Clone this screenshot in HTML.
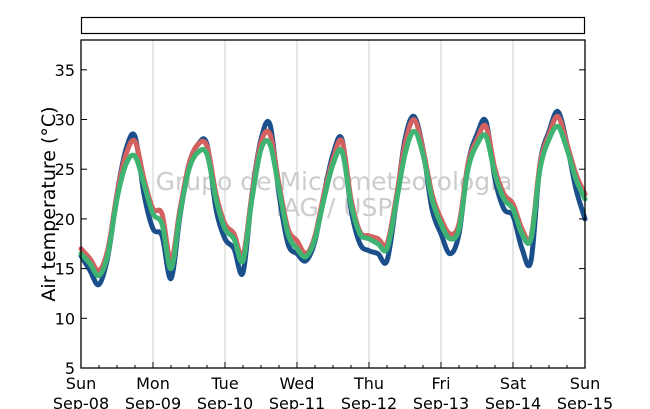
<!DOCTYPE html>
<html><head><meta charset="utf-8"><style>
body{margin:0;background:#fff}
svg{display:block;font-family:"DejaVu Sans","Liberation Sans",sans-serif}
</style></head><body>
<svg id="chart" width="650" height="409" viewBox="0 0 650 409">
<rect x="81.5" y="17.5" width="503" height="16" fill="#fff" stroke="#000" stroke-width="1.2"/>
<g id="grid"></g>
<g id="watermark" fill="#cccccc" font-size="25" text-anchor="middle">
<text x="334" y="190">Grupo de Micrometeorologia</text>
<text x="334" y="216">IAG / USP</text>
</g>
<g id="series"></g>
<rect x="81" y="40" width="504" height="328" fill="none" stroke="#000" stroke-width="1.3"/>
<g id="axes"></g>
<text transform="translate(55,204) rotate(-90)" text-anchor="middle" font-size="19">Air temperature (°C)</text>
</svg>
<script>
const dayLabels=["Sun","Mon","Tue","Wed","Thu","Fri","Sat","Sun"];
const dateLabels=["Sep-08","Sep-09","Sep-10","Sep-11","Sep-12","Sep-13","Sep-14","Sep-15"];
const yTicks=[5,10,15,20,25,30,35];
const stepHours=3;
const greenSeries=[16.5,15.5,14.3,16.5,22,25.5,26.3,23.5,20.5,19.5,15,20.5,25,26.7,26.5,22,19,18,15.8,22,27,27.5,23,18.5,17,16.2,18,22,25.5,26.8,21.5,18.5,18,17.5,17,21.5,26.5,28.8,26.5,22,19.5,18,19,25,27.5,28.3,24.5,22,21,18.5,18,25,28,29.3,27,24,22];
const blueSeries=[16.3,14.8,13.4,16.3,22.5,27,28.3,22.5,19,18.3,14,20.3,25.5,27.5,27.5,21,18,17,14.6,22.5,28,29.5,22.5,17.5,16.5,15.8,17.8,22.5,26.5,28,21,17.5,16.8,16.5,15.8,21.5,28,30.3,27,21,18.5,16.5,18.5,25.5,28.5,29.8,24,21,20.3,17,15.8,25.5,28.8,30.8,27.5,23,20];
const redSeries=[17,16,14.8,17,22.5,26.5,27.8,24,21,20.5,15.8,21,25.5,27.5,27.3,22.5,19.5,18.5,16.3,22.5,27.7,28.5,23.5,19,17.8,16.5,18.3,22.5,26,27.8,22,18.7,18.3,18,17.5,22,27.5,30,27,22.5,20,18.5,19.5,25.5,28,29.3,25,22.5,21.5,19,18.2,25.5,28.5,30.3,27.5,24.5,22.5];

const NS="http://www.w3.org/2000/svg";
const X0=81,X1=585,Y0=40,Y1=368,HMAX=168,TMIN=5,TMAX=38;
const xs=h=>X0+(h/HMAX)*(X1-X0);
const ys=t=>Y1-(t-TMIN)/(TMAX-TMIN)*(Y1-Y0);
function mk(tag,parent,attrs){const e=document.createElementNS(NS,tag);for(const k in attrs)e.setAttribute(k,attrs[k]);parent.appendChild(e);return e;}
const grid=document.getElementById('grid'),axes=document.getElementById('axes'),ser=document.getElementById('series');
for(let d=1;d<7;d++){const g=mk('line',grid,{x1:xs(d*24),x2:xs(d*24),y1:Y0,y2:Y1,stroke:'#cccccc','stroke-width':1});

}
for(let h=6;h<HMAX;h+=6){const t=mk('line',axes,{x1:xs(h),x2:xs(h),y1:Y1,y2:Y1-(h%24?3:6),stroke:'#000'});

}
dayLabels.forEach((lab,i)=>{
const a=mk('text',axes,{x:xs(i*24),y:389,'text-anchor':'middle','font-size':16});a.textContent=lab;


const b=mk('text',axes,{x:xs(i*24),y:409,'text-anchor':'middle','font-size':16});b.textContent=dateLabels[i];

});
yTicks.forEach(v=>{
const l=mk('line',axes,{x1:X0,x2:X0+6,y1:ys(v),y2:ys(v),stroke:'#000'});


const r=mk('line',axes,{x1:X1-6,x2:X1,y1:ys(v),y2:ys(v),stroke:'#000'});


const t=mk('text',axes,{x:75,y:ys(v)+6,'text-anchor':'end','font-size':16});t.textContent=v;

});
function draw(arr,color,name){
const P=arr.map((v,i)=>[xs(i*stepHours),ys(v)]);
let d='M'+P[0][0].toFixed(1)+','+P[0][1].toFixed(1);
for(let i=0;i<P.length-1;i++){
const p0=P[Math.max(0,i-1)],p1=P[i],p2=P[i+1],p3=P[Math.min(P.length-1,i+2)];
const c1x=p1[0]+(p2[0]-p0[0])/6,c1y=p1[1]+(p2[1]-p0[1])/6;
const c2x=p2[0]-(p3[0]-p1[0])/6,c2y=p2[1]-(p3[1]-p1[1])/6;
d+=' C'+c1x.toFixed(1)+','+c1y.toFixed(1)+' '+c2x.toFixed(1)+','+c2y.toFixed(1)+' '+p2[0].toFixed(1)+','+p2[1].toFixed(1);}
const p=mk('path',ser,{d:d,fill:'none',stroke:color,'stroke-width':5,'stroke-linejoin':'round','stroke-linecap':'round'});

}
draw(blueSeries,'#1b4f8c','series-blue');
draw(redSeries,'#d3615f','series-red');
draw(greenSeries,'#3fb372','series-green');
</script>
</body></html>
